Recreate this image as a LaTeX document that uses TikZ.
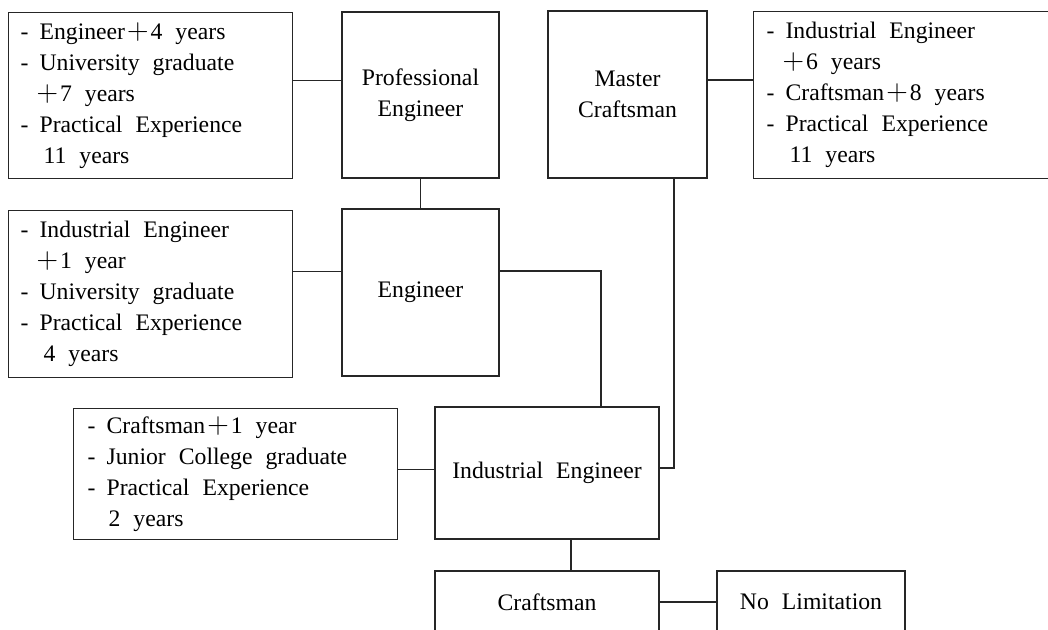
\documentclass[tikz,border=0pt]{standalone}
\usepackage{fontspec}
\setmainfont{Liberation Serif}
\newcommand\pl{\kern2pt\scalebox{1.2}{$+$}\kern2pt}
\newcommand\dd{\makebox[19pt][l]{-}}
\newcommand\ind[1]{\hspace*{#1pt}}
\newcommand\wsp{\spaceskip=0.55em plus 0.1em minus 0.1em\relax}
\newcommand\myfont{\fontsize{23.7}{31}\selectfont\wsp}
\begin{document}
\begin{tikzpicture}[x=1pt,y=-1pt,
  every node/.style={font=\myfont},
  rank/.style={draw=black!85, line width=1.2pt, inner sep=0pt, align=center},
  info/.style={draw=black!85, line width=1.2pt, inner ysep=0pt, align=left, anchor=north west},
  link/.style={draw=black!85, line width=1.2pt}]
\path[use as bounding box] (0,0) rectangle (1048,629);
\clip (0,0) rectangle (1048,629);

% rank boxes
\node[rank, minimum width=157pt, minimum height=166pt] (pe) at (420.5,95) {Professional\\Engineer};
\node[rank, minimum width=157pt, minimum height=167pt] (eng) at (420.5,292.5) {Engineer};
\node[rank, minimum width=159pt, minimum height=167pt] (mc) at (627.5,94.5) {Master\\Craftsman};
\node[rank, minimum width=224pt, minimum height=132pt] (ie) at (547,473) {Industrial Engineer};
\node[rank, minimum width=224pt, minimum height=62pt] (cr) at (547,602) {Craftsman};
\node[rank, minimum width=188pt, minimum height=62pt] (nl) at (811,602) {No Limitation};

% requirement boxes
\node[info, inner xsep=12pt, text width=260pt, minimum height=166pt] (tl) at (8,12)
  {\wsp\dd Engineer\pl4 years\\
   \dd University graduate\\
   \ind{14}\pl7 years\\
   \dd Practical Experience\\
   \ind{23}11 years};
\node[info, inner xsep=12pt, text width=260pt, minimum height=167pt] (ei) at (8,210)
  {\wsp\dd Industrial Engineer\\
   \ind{14}\pl1 year\\
   \dd University graduate\\
   \dd Practical Experience\\
   \ind{23}4 years};
\node[info, inner xsep=13pt, text width=281pt, minimum height=167pt] (tr) at (753,11)
  {\wsp\dd Industrial Engineer\\
   \ind{14}\pl6 years\\
   \dd Craftsman\pl8 years\\
   \dd Practical Experience\\
   \ind{23}11 years};
\node[info, inner xsep=14pt, text width=296pt, minimum height=131pt] (jr) at (73,408)
  {\wsp\dd Craftsman\pl1 year\\
   \dd Junior College graduate\\
   \dd Practical Experience\\
   \ind{21}2 years};

% connectors
\draw[link] ([yshift=15pt]tl.east) -- ([yshift=15pt]tl.east -| pe.west);
\draw[link] (pe) -- (eng);
\draw[link] ([yshift=22.5pt]ei.east) -- ([yshift=22.5pt]ei.east -| eng.west);
\draw[link] ([yshift=21.5pt]eng.east) -| ([xshift=54pt]ie.north);
\draw[link] ([yshift=14.5pt]mc.east) -- ([yshift=14.5pt]mc.east -| tr.west);
\draw[link] ([xshift=46.5pt]mc.south) |- ([yshift=5pt]ie.east);
\draw[link] ([yshift=4.5pt]jr.east) -- ([yshift=4.5pt]jr.east -| ie.west);
\draw[link] ([xshift=24pt]ie.south) -- ([xshift=24pt]cr.north);
\draw[link] (cr) -- (nl);
\end{tikzpicture}
\end{document}
